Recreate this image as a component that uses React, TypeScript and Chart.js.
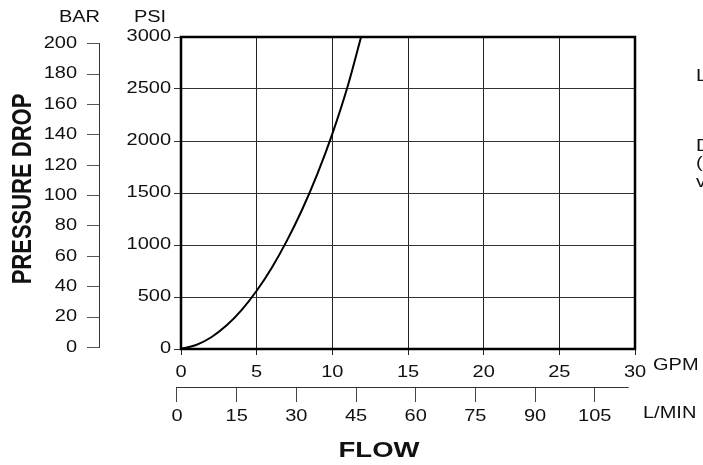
import React, { useEffect, useRef } from "react";
import { Chart, registerables } from "chart.js";

Chart.register(...registerables);

// ---- data ----
const FLOW_GPM = [0, 1, 2, 3, 4, 5, 6, 7, 8, 9, 10, 11, 11.9];
const PRESSURE_PSI = [0, 38, 113, 225, 374, 560, 782, 1042, 1339, 1679, 2069, 2519, 3000];
const GPM_RANGE = [0, 30];
const PSI_RANGE = [0, 3000];
const BAR_TICKS = [0, 20, 40, 60, 80, 100, 120, 140, 160, 180, 200];
const LMIN_TICKS = [0, 15, 30, 45, 60, 75, 90, 105];
const LMIN_AXIS_END = 113.56; // 30 GPM in L/min
const SIDE_TEXT = ["L", "D", "(", "v"];

const SX = 1.25; // horizontal glyph stretch of the original artwork
const FONT = "'Liberation Sans', Arial, Helvetica, sans-serif";

export default function App() {
  const ref = useRef<HTMLCanvasElement | null>(null);

  useEffect(() => {
    const canvas = ref.current!;
    const ctx: any = canvas.getContext("2d");
    const orig = ctx.fillText.bind(ctx);
    ctx._origFillText = orig;
    ctx.fillText = (text: string, x: number, y: number, maxWidth?: number) => {
      ctx.save();
      ctx.translate(x, y);
      ctx.scale(SX, 1);
      if (maxWidth === undefined) orig(text, 0, 0);
      else orig(text, 0, 0, maxWidth / SX);
      ctx.restore();
    };

    const decor = {
      id: "decor",
      afterDraw(chart: any) {
        const c: any = chart.ctx;
        const a = chart.chartArea;
        const yBar = chart.scales.yBar;
        const xL = chart.scales.xL;
        c.save();
        // secondary axis lines
        c.strokeStyle = "#333";
        c.lineWidth = 1;
        c.beginPath();
        const bx = Math.round(yBar.right) - 0.5;
        c.moveTo(bx, yBar.getPixelForValue(BAR_TICKS[BAR_TICKS.length - 1]));
        c.lineTo(bx, yBar.getPixelForValue(BAR_TICKS[0]));
        const ly = Math.round(xL.top) + 0.5;
        c.moveTo(xL.getPixelForValue(0), ly);
        c.lineTo(xL.getPixelForValue(LMIN_AXIS_END), ly);
        c.stroke();
        // frame
        c.strokeStyle = "#000";
        c.lineWidth = 2.5;
        c.strokeRect(a.left, a.top, a.right - a.left, a.bottom - a.top);
        // texts
        c.fillStyle = "#111";
        c.font = `16px ${FONT}`;
        c.textBaseline = "middle";
        c.textAlign = "center";
        c.fillText("BAR", 79.5, 18);
        c.fillText("PSI", 150, 18);
        c.textAlign = "left";
        c.fillText("GPM", 653, 366);
        c.fillText("L/MIN", 643, 414);
        const ys = [77, 147, 164, 183];
        SIDE_TEXT.forEach((t, i) => c.fillText(t, 696, ys[i]));
        c.font = `bold 22px ${FONT}`;
        c.textAlign = "center";
        c.fillText("FLOW", 379, 451);
        // rotated title
        c.save();
        c.translate(23, 189);
        c.scale(SX, 1);
        c.rotate(-Math.PI / 2);
        c._origFillText("PRESSURE DROP", 0, 0);
        c.restore();
        c.restore();
      },
    };

    const tickFont = { family: FONT, size: 16 };
    const plain = (v: any) => String(v);
    const chart = new Chart(canvas, {
      type: "line",
      data: {
        datasets: [
          {
            data: FLOW_GPM.map((g, i) => ({ x: g, y: PRESSURE_PSI[i] })),
            borderColor: "#000",
            borderWidth: 2,
            pointRadius: 0,
            cubicInterpolationMode: "monotone",
            xAxisID: "x",
            yAxisID: "y",
          },
        ],
      },
      options: {
        animation: false,
        responsive: true,
        maintainAspectRatio: false,
        devicePixelRatio: 1,
        layout: { padding: { top: 37, right: 68, bottom: 0, left: 0 } },
        plugins: { legend: { display: false }, tooltip: { enabled: false } },
        scales: {
          x: {
            type: "linear",
            position: "bottom",
            weight: 0,
            min: GPM_RANGE[0],
            max: GPM_RANGE[1],
            ticks: { stepSize: 5, autoSkip: false, maxRotation: 0, padding: 8, color: "#111", font: tickFont, callback: plain },
            grid: { color: "#222", lineWidth: 1, tickLength: 6 },
            border: { display: false },
            afterFit: (s: any) => { s.height = 38; },
          },
          xL: {
            type: "linear",
            position: "bottom",
            weight: 1,
            min: 1.006,
            max: 115.13,
            afterBuildTicks: (s: any) => { s.ticks = LMIN_TICKS.map((v) => ({ value: v })); },
            ticks: { autoSkip: false, maxRotation: 0, padding: 5, color: "#111", font: tickFont, callback: plain },
            grid: { drawOnChartArea: false, color: "#444", lineWidth: 1, tickLength: 15 },
            border: { display: false },
            afterFit: (s: any) => { s.height = 78; },
          },
          y: {
            type: "linear",
            position: "left",
            weight: 0,
            min: PSI_RANGE[0],
            max: PSI_RANGE[1],
            ticks: { stepSize: 500, autoSkip: false, padding: 3, color: "#111", font: tickFont, callback: plain },
            grid: { color: "#333", lineWidth: 1, tickLength: 7 },
            border: { display: false },
            afterFit: (s: any) => { s.width = 81; },
          },
          yBar: {
            type: "linear",
            position: "left",
            weight: 1,
            min: -1.05,
            max: 204.4,
            afterBuildTicks: (s: any) => { s.ticks = BAR_TICKS.map((v) => ({ value: v })); },
            ticks: { autoSkip: false, padding: 10, color: "#111", font: tickFont, callback: plain },
            grid: { drawOnChartArea: false, color: "#555", lineWidth: 1, tickLength: 13 },
            border: { display: false },
            afterFit: (s: any) => { s.width = 100; },
          },
        },
      } as any,
      plugins: [decor],
    });
    return () => chart.destroy();
  }, []);

  return (
    <div style={{ position: "fixed", left: 0, top: 0, width: 703, height: 465, background: "#fff" }}>
      <canvas ref={ref} />
    </div>
  );
}
